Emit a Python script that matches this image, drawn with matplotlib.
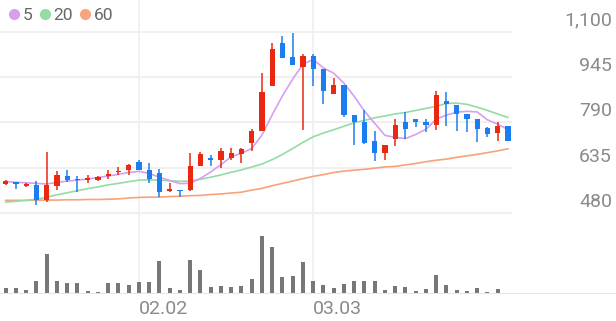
import numpy as np
import matplotlib.pyplot as plt
from matplotlib.lines import Line2D

plt.rcParams['font.family'] = ['Roboto', 'DejaVu Sans']

# 일봉 데이터
opens = [581, 587, 574, 575, 524, 574, 608, 598, 592, 594, 606, 621, 628, 656, 626, 617, 556, 560, 558, 642,
         670, 663, 667, 683, 719, 762, 913, 1060, 1015, 979, 1017, 972, 888, 919, 817, 792, 728, 686, 735, 790,
         801, 790, 783, 863, 851, 819, 803, 772, 754, 779]
highs = [594, 588, 582, 590, 689, 623, 628, 608, 612, 606, 626, 638, 649, 663, 651, 631, 585, 560, 687, 690,
         680, 703, 703, 703, 767, 958, 1060, 1085, 1095, 1024, 1024, 972, 942, 919, 817, 833, 760, 714, 803, 826,
         801, 801, 897, 894, 851, 819, 803, 776, 792, 779]
lows = [576, 563, 570, 507, 520, 560, 588, 552, 583, 590, 597, 612, 612, 626, 583, 537, 553, 537, 556, 640,
        640, 635, 663, 653, 694, 760, 913, 1010, 985, 765, 915, 854, 888, 810, 713, 715, 658, 662, 708, 735,
        776, 756, 765, 778, 760, 756, 724, 742, 728, 727]
closes = [590, 580, 580, 526, 576, 610, 594, 592, 600, 604, 615, 625, 644, 626, 597, 553, 563, 556, 640, 681,
          663, 692, 687, 701, 760, 894, 1040, 1010, 985, 1017, 972, 897, 919, 817, 790, 720, 687, 714, 783, 769,
          790, 781, 883, 854, 819, 803, 769, 751, 779, 727]

# 이동평균선
ma5 = [588, 586, 584, 582, 580, 585, 590, 593, 597, 602, 607, 613, 619, 623, 616, 603, 592, 581, 583, 599,
       621, 646, 673, 685, 701, 747, 816, 881, 938, 989, 1005, 976, 958, 924, 879, 829, 787, 746, 739, 735,
       749, 767, 801, 815, 825, 828, 826, 799, 784, 766]
ma20 = [518, 521, 524, 528, 535, 543, 550, 557, 564, 570, 577, 582, 588, 593, 594, 593, 591, 589, 590, 596,
        603, 611, 620, 628, 638, 648, 663, 681, 701, 722, 741, 754, 765, 777, 789, 797, 806, 812, 819, 824,
        831, 838, 845, 855, 856, 852, 842, 831, 819, 807]
ma60 = [524, 524, 524, 525, 525, 525, 526, 526, 527, 527, 528, 529, 532, 534, 535, 535, 537, 538, 540, 541,
        544, 546, 549, 552, 559, 565, 574, 582, 590, 598, 606, 612, 619, 624, 627, 630, 634, 638, 640, 645,
        650, 656, 661, 665, 671, 676, 681, 687, 693, 700]

# 거래량 (천주)
volumes = [60, 60, 43, 130, 403, 130, 107, 107, 30, 23, 107, 107, 90, 123, 123, 327, 57, 43, 343, 243,
           70, 83, 70, 80, 153, 583, 473, 167, 183, 323, 130, 87, 63, 100, 130, 130, 130, 43, 77, 73,
           33, 50, 193, 90, 43, 33, 57, 17, 47, 0]

price_ticks = [1100, 945, 790, 635, 480]
date_idx = [13, 30]
date_labels = ['02.02', '03.03']

up_col = '#e8290f'
down_col = '#1b7ef0'
grid_col = '#f0f0f0'
text_col = '#8a8a8a'

W, H = 616, 321
fig = plt.figure(figsize=(W / 100, H / 100), dpi=100)
ax = fig.add_axes([0, (H - 220) / H, 1, 220 / H])
axv = fig.add_axes([0, (H - 294) / H, 1, 74 / H])

x = np.arange(len(closes))
o = np.array(opens)
c = np.array(closes)
colors = [up_col if cc >= oo else down_col for oo, cc in zip(o, c)]

xlim = (-0.556, -0.556 + W / 10.25)
for a in (ax, axv):
    a.set_xlim(*xlim)
    for s in a.spines.values():
        s.set_visible(False)
    a.set_yticks([])
    a.tick_params(length=0)
    for d in date_idx:
        a.axvline(d, color=grid_col, lw=1.3, zorder=0)

ax.set_xticks([])
ax.set_ylim(457, 1208)

for t in price_ticks:
    ax.axhline(t, xmin=0, xmax=511 / W, color=grid_col, lw=1.5, zorder=0)
    ax.annotate(f'{t:,}', xy=(612 / W, t), xycoords=('axes fraction', 'data'),
                xytext=(0, 4.5), textcoords='offset points',
                ha='right', va='baseline', fontsize=14, color=text_col)

ax.plot(x, ma60, color='#f9a27a', lw=1.2, zorder=2)
ax.plot(x, ma20, color='#93dca3', lw=1.2, zorder=2)
ax.plot(x, ma5, color='#d79ef2', lw=1.2, zorder=2)

ax.vlines(x, lows, highs, colors=colors, lw=1.1, zorder=3)
body_h = np.maximum(np.abs(c - o), 3)
ax.bar(x, body_h, bottom=np.minimum(o, c), width=0.5, color=colors, zorder=4)

handles = [Line2D([], [], ls='', marker='o', ms=7, color=col)
           for col in ('#d79ef2', '#93dca3', '#f8a57f')]
leg = ax.legend(handles, ['5', '20', '60'], loc='upper left', bbox_to_anchor=(-0.004, 1.02),
                ncol=3, frameon=False, handlelength=0.5, handletextpad=0.25,
                columnspacing=0.45, fontsize=12.5, borderpad=0.2)
for t in leg.get_texts():
    t.set_color('#666666')

axv.bar(x, volumes, width=0.4, color='#777777', zorder=2)
axv.set_ylim(0, max(volumes) * 74 / 58.3)
axv.axhline(0, color='#e6e6e6', lw=1.5, zorder=3)
axv.set_xticks(date_idx)
axv.set_xticklabels(date_labels, fontsize=14, color=text_col, ha='left')
axv.tick_params(axis='x', pad=4)

fig.savefig('out.png', dpi=100)
